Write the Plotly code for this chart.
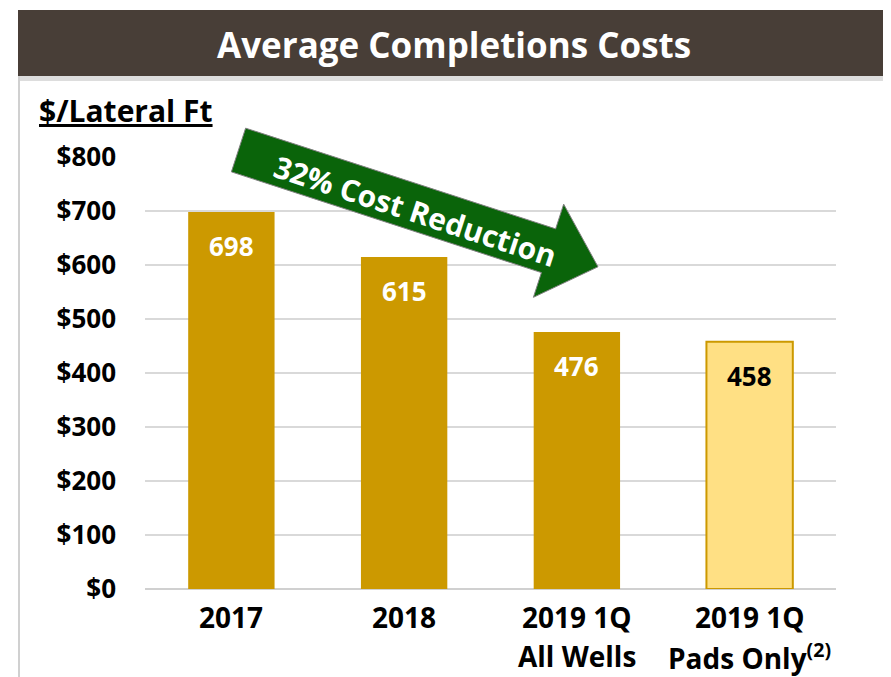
import math
import plotly.graph_objects as go

# Données
categories = ["2017", "2018", "2019 1Q All Wells", "2019 1Q Pads Only"]
line1 = ["2017", "2018", "2019 1Q", "2019 1Q"]
line2 = ["", "", "All Wells", "Pads Only<sup>(2)</sup>"]
cost_per_ft = [698, 615, 476, 458]
tick_vals = [0, 100, 200, 300, 400, 500, 600, 700, 800]
tick_text = ["$0", "$100", "$200", "$300", "$400", "$500", "$600", "$700", "$800"]

# la page ajoute 8 px de marge : on travaille en pixels de la capture
OFF = 8
W, H = 891 - OFF, 677 - OFF
L, R, T, B = 145 - OFF, 891 - 836, 157 - OFF, 677 - 589
FONT = "Open Sans, sans-serif"

gold = "#CC9900"
light = "#FFE084"
bar_colors = [gold, gold, gold, light]
text_colors = ["white", "white", "white", "black"]


def px(x):
    return (x - OFF - L) / (W - L - R)


def py(y):
    return (H - B - (y - OFF)) / (H - T - B)


fig = go.Figure()
fig.add_trace(go.Bar(
    x=categories,
    y=cost_per_ft,
    marker=dict(color=bar_colors, line=dict(color=gold, width=[0, 0, 0, 2])),
    hoverinfo="skip",
))

annotations = []
# Valeurs dans les barres (x = index de catégorie)
for i, (v, col) in enumerate(zip(cost_per_ft, text_colors)):
    annotations.append(dict(x=i, y=v, xref="x", yref="y", text="<b>%d</b>" % v,
                            showarrow=False, yanchor="top", yshift=-14,
                            font=dict(size=26, color=col, family=FONT)))
# Libellés de l'axe X
for i, (a, b) in enumerate(zip(line1, line2)):
    annotations.append(dict(x=i, y=py(617), xref="x", yref="paper", text="<b>%s</b>" % a,
                            showarrow=False, yanchor="middle",
                            font=dict(size=28, color="black", family=FONT)))
    if b:
        annotations.append(dict(x=i, y=py(656), xref="x", yref="paper", text="<b>%s</b>" % b,
                                showarrow=False, yanchor="middle",
                                font=dict(size=28, color="black", family=FONT)))

annotations.append(dict(x=px(454), y=py(45), xref="paper", yref="paper",
                        xanchor="center", yanchor="middle",
                        text="<b>Average Completions Costs</b>", showarrow=False,
                        font=dict(size=35, color="white", family=FONT)))
annotations.append(dict(x=px(37), y=py(110), xref="paper", yref="paper", xanchor="left",
                        yanchor="middle",
                        text="<b><u>$/Lateral Ft</u></b>", showarrow=False,
                        font=dict(size=30, color="black", family=FONT)))

# Flèche verte
sx, sy = 238.5, 150
ang = math.radians(18)
Lg, hl, hw, hh = 378, 52, 23, 49
ux, uy = math.cos(ang), math.sin(ang)
nx, ny = -math.sin(ang), math.cos(ang)
bx, by = sx + ux * (Lg - hl), sy + uy * (Lg - hl)
pts = [
    (sx - nx * hw, sy - ny * hw),
    (bx - nx * hw, by - ny * hw),
    (bx - nx * hh, by - ny * hh),
    (sx + ux * Lg, sy + uy * Lg),
    (bx + nx * hh, by + ny * hh),
    (bx + nx * hw, by + ny * hw),
    (sx + nx * hw, sy + ny * hw),
]
path = "M " + " L ".join("%f,%f" % (px(x), py(y)) for x, y in pts) + " Z"

shapes = [
    dict(type="rect", xref="paper", yref="paper", x0=px(18), x1=px(891), y0=py(76), y1=py(81),
         fillcolor="#DDDDDD", line=dict(width=0), layer="below"),
    dict(type="rect", xref="paper", yref="paper", x0=px(18), x1=px(891), y0=py(76), y1=py(10),
         fillcolor="#483E37", line=dict(width=0), layer="below"),
    dict(type="line", xref="paper", yref="paper", x0=px(19), x1=px(19), y0=py(76), y1=py(677),
         line=dict(color="#D0D0D0", width=2), layer="below"),
    dict(type="path", xref="paper", yref="paper", path=path, layer="above",
         fillcolor="#0A640A", line=dict(color="#808080", width=1),
         label=dict(text="<b>32% Cost Reduction</b>", textangle=18,
                    textposition="middle center",
                    font=dict(size=30, color="white", family=FONT))),
]

fig.update_layout(
    width=W, height=H,
    margin=dict(l=L, r=R, t=T, b=B),
    paper_bgcolor="white", plot_bgcolor="white",
    bargap=0.5,
    showlegend=False,
    xaxis=dict(type="category", range=[-0.5, 3.5], showticklabels=False, showgrid=False,
               zeroline=False, showline=False, fixedrange=True),
    yaxis=dict(range=[0, 800], tickvals=tick_vals, ticktext=["<b>%s</b>" % t for t in tick_text],
               tickfont=dict(size=26, color="black", family=FONT), ticklabelstandoff=28,
               showgrid=True, gridcolor="#D9D9D9", gridwidth=2,
               zeroline=True, zerolinecolor="#D0D0D0", zerolinewidth=2, fixedrange=True),
    annotations=annotations,
    shapes=shapes,
)

fig.write_html("out.html")
